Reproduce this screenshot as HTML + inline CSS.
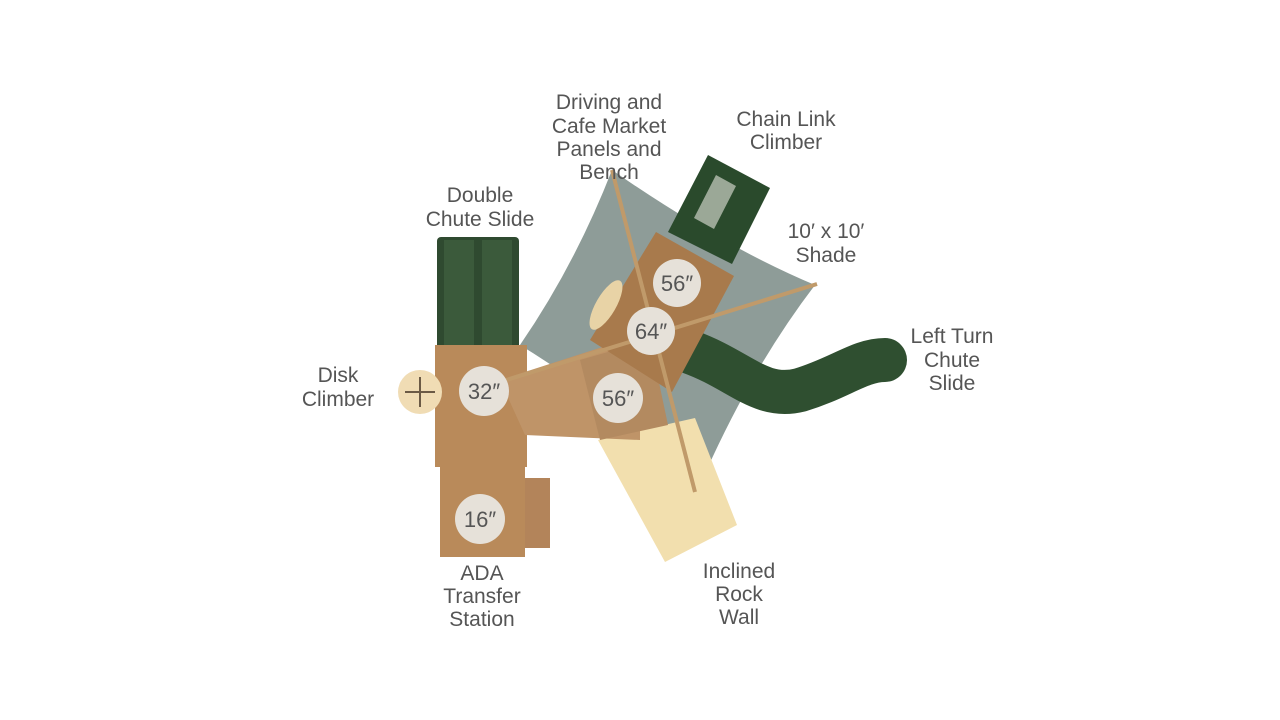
<!DOCTYPE html>
<html><head><style>
body{margin:0;background:#fff;width:1280px;height:720px;overflow:hidden}
svg{display:block}
text{font-family:"Liberation Sans",sans-serif;fill:#555;font-size:21px;text-anchor:middle}
.c{font-size:22px;fill:#555}
</style></head><body>
<svg width="1280" height="720" viewBox="0 0 1280 720">
<!-- shade -->
<path d="M612,170 Q720,245 815,285 Q750,370 700,485 Q610,400 520,345 Q575,265 612,170Z" fill="#8e9c98"/>
<!-- double chute slide -->
<rect x="437" y="237" width="82" height="115" rx="4" fill="#2f4a30"/>
<rect x="444" y="240" width="30" height="110" fill="#3b5a3b"/>
<rect x="482" y="240" width="30" height="110" fill="#3b5a3b"/>
<!-- chain climber -->
<polygon points="668,232 708,155 770,188 732,264" fill="#2a4a2c"/>
<polygon points="694,218 716,175 736,186 714,229" fill="#e8e8e0" opacity=".6"/>
<!-- left turn slide -->
<path d="M690,352 C740,370 760,400 800,390 C840,378 860,360 885,360" stroke="#2f4f30" stroke-width="44" fill="none" stroke-linecap="round"/>
<!-- rock wall -->
<polygon points="598,440 695,418 737,525 665,562" fill="#f2dfae"/>
<!-- main deck -->
<rect x="435" y="345" width="92" height="122" fill="#b98a5a"/>
<rect x="440" y="465" width="85" height="92" fill="#b98a5a"/>
<rect x="525" y="478" width="25" height="70" fill="#b3845a"/>
<!-- connector -->
<polygon points="500,380 640,335 640,440 525,435" fill="#bf9468"/>
<!-- 56 lower deck -->
<polygon points="580,360 650,340 668,425 600,440" fill="#b38a60"/>
<!-- upper tower -->
<polygon points="656,232 734,276 672,392 590,340" fill="#a87a4c"/>
<ellipse cx="606" cy="305" rx="10" ry="28" fill="#e8d3a6" transform="rotate(30 606 305)"/>
<!-- disk climber -->
<circle cx="420" cy="392" r="22" fill="#f0dcb4"/>
<path d="M405,392h30M420,377v30" stroke="#6b5a45" stroke-width="2"/>
<!-- poles -->
<line x1="612" y1="170" x2="695" y2="492" stroke="#c09a6a" stroke-width="4"/>
<line x1="500" y1="382" x2="817" y2="284" stroke="#c09a6a" stroke-width="4"/>
<!-- height circles -->
<g fill="#e6e1d9">
<circle cx="484" cy="391" r="25"/><circle cx="677" cy="283" r="24"/>
<circle cx="651" cy="331" r="24"/><circle cx="618" cy="398" r="25"/>
<circle cx="480" cy="519" r="25"/></g>
<text class="c" x="484" y="399">32″</text>
<text class="c" x="677" y="291">56″</text>
<text class="c" x="651" y="339">64″</text>
<text class="c" x="618" y="406">56″</text>
<text class="c" x="480" y="527">16″</text>
<!-- labels -->
<text x="609" y="109">Driving and</text>
<text x="609" y="133">Cafe Market</text>
<text x="609" y="156">Panels and</text>
<text x="609" y="179">Bench</text>
<text x="786" y="126">Chain Link</text>
<text x="786" y="149">Climber</text>
<text x="480" y="202">Double</text>
<text x="480" y="226">Chute Slide</text>
<text x="826" y="238">10′ x 10′</text>
<text x="826" y="262">Shade</text>
<text x="952" y="343">Left Turn</text>
<text x="952" y="367">Chute</text>
<text x="952" y="390">Slide</text>
<text x="338" y="382">Disk</text>
<text x="338" y="406">Climber</text>
<text x="482" y="580">ADA</text>
<text x="482" y="603">Transfer</text>
<text x="482" y="626">Station</text>
<text x="739" y="578">Inclined</text>
<text x="739" y="601">Rock</text>
<text x="739" y="624">Wall</text>
</svg>
</body></html>
